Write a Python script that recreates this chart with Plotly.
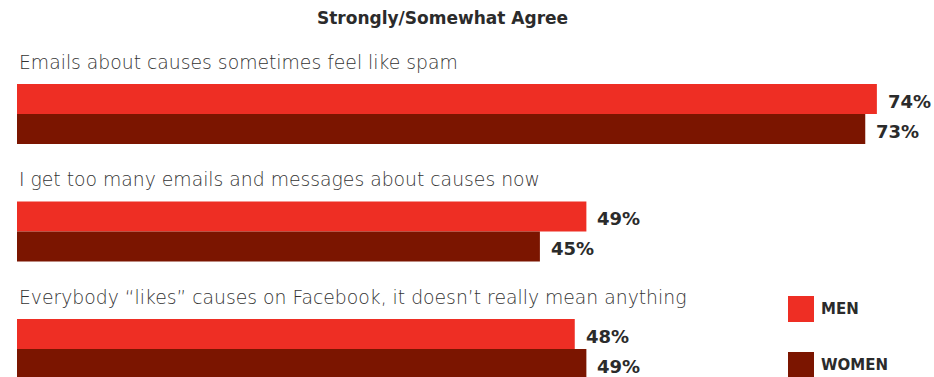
import plotly.graph_objects as go

# Survey results: share who strongly/somewhat agree, by gender
statements = [
    "Emails about causes sometimes feel like spam",
    "I get too many emails and messages about causes now",
    "Everybody \u201clikes\u201d causes on Facebook, it doesn\u2019t really mean anything",
]
men = [74, 49, 48]
women = [73, 45, 49]
series_names = ["MEN", "WOMEN"]
colors = ["#EE2E24", "#7B1500"]

W, H = 934, 377
L, R, T, B = 17, 0, 40, 0
plot_w = W - L - R
plot_h = H - T - B
px_per_pct = 11.62
x_max = plot_w / px_per_pct

BOLD = dict(family="DejaVu Sans", color="#2b2b2b", weight=700)

fig = go.Figure()
for name, vals, col in zip(series_names, [men, women], colors):
    fig.add_trace(go.Bar(
        y=statements, x=vals, orientation="h", name=name,
        marker=dict(color=col, line=dict(width=0)),
        hoverinfo="x+name",
    ))

annotations = []
# statement labels above each group
for s in statements:
    annotations.append(dict(
        x=0, xref="paper", y=s, yref="y", text=s, showarrow=False,
        xanchor="left", yanchor="middle", yshift=52,
        font=dict(family="DejaVu Sans", size=18.8, color="#333333", weight=200),
    ))
# value labels at the end of each bar
for vals, ys in [(men, 13), (women, -17)]:
    for s, v in zip(statements, vals):
        annotations.append(dict(
            x=v, xref="x", y=s, yref="y", text=f"{v}%", showarrow=False,
            xanchor="left", yanchor="middle", xshift=9, yshift=ys,
            font=dict(size=18, **BOLD),
        ))

# title
annotations.append(dict(
    x=(442 - L) / plot_w, xref="paper", y=(H - 18 - B) / plot_h, yref="paper",
    text="Strongly/Somewhat Agree", showarrow=False,
    xanchor="center", yanchor="middle",
    font=dict(size=17, **BOLD),
))

# legend swatches and labels
def px_to_paper_x(px):
    return (px - L) / plot_w

def px_to_paper_y(py):
    return (H - B - py) / plot_h

shapes = []
for (top, name, col) in [(296, "MEN", colors[0]), (352, "WOMEN", colors[1])]:
    shapes.append(dict(
        type="rect", xref="paper", yref="paper",
        x0=px_to_paper_x(788), x1=px_to_paper_x(814),
        y0=px_to_paper_y(top + 26), y1=px_to_paper_y(top),
        fillcolor=col, line=dict(width=0),
    ))
    annotations.append(dict(
        x=px_to_paper_x(819), xref="paper", y=px_to_paper_y(top + 13), yref="paper",
        text=name, showarrow=False, xanchor="left", yanchor="middle",
        font=dict(size=15, **BOLD),
    ))

fig.update_layout(
    width=W, height=H,
    margin=dict(l=L, r=R, t=T, b=B, pad=0),
    paper_bgcolor="white", plot_bgcolor="white",
    barmode="group", bargap=0.49, bargroupgap=0,
    showlegend=False,
    xaxis=dict(range=[0, x_max], visible=False, fixedrange=True),
    yaxis=dict(type="category", categoryorder="array", categoryarray=statements,
               range=[(377 - 114) / 117.5, (40 - 114) / 117.5],
               visible=False, fixedrange=True),
    annotations=annotations, shapes=shapes,
)

fig.write_html("out.html")
